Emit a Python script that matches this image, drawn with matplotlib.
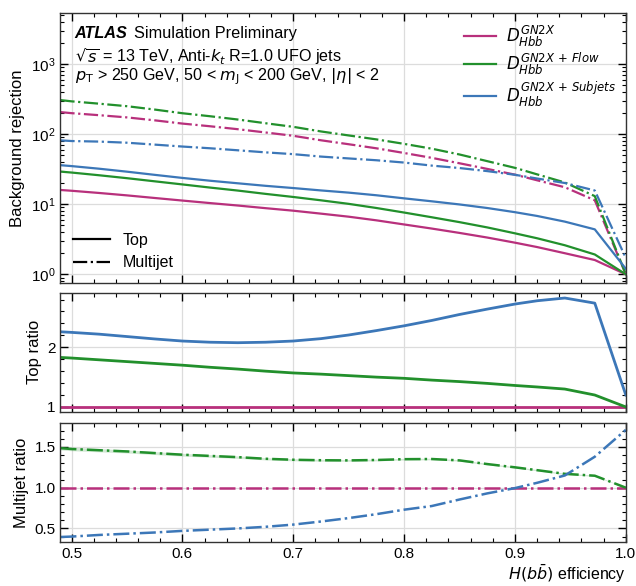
import numpy as np
import matplotlib
matplotlib.use("Agg")
import matplotlib.pyplot as plt
from matplotlib.ticker import MultipleLocator, LogLocator, NullFormatter

plt.rcParams["font.family"] = ["Liberation Sans", "DejaVu Sans"]
plt.rcParams["mathtext.fontset"] = "dejavusans"

# eficiencia H(bb) nos pontos da curva
eff = [0.49, 0.50, 0.525, 0.55, 0.575, 0.60, 0.625, 0.65, 0.675, 0.70, 0.725,
       0.75, 0.775, 0.80, 0.825, 0.85, 0.875, 0.90, 0.92, 0.945, 0.972, 1.0]

# rejeicao do GN2X (referencia)
rej_top_gn2x = [16.0, 15.6, 14.5, 13.4, 12.3, 11.3, 10.4, 9.6, 8.8, 8.1, 7.35,
                6.65, 5.9, 5.15, 4.5, 3.9, 3.35, 2.83, 2.45, 2.0, 1.6, 1.0]
rej_qcd_gn2x = [207, 200, 187, 174, 158, 142, 130, 118, 106, 95, 82,
                72, 63, 54, 46, 38.5, 32, 26.5, 22, 17.5, 11.4, 1.0]

# razoes em relacao ao GN2X
ratio_top_flow = [1.83, 1.82, 1.79, 1.76, 1.73, 1.70, 1.665, 1.635, 1.60, 1.57, 1.55,
                  1.525, 1.50, 1.48, 1.45, 1.425, 1.395, 1.36, 1.335, 1.30, 1.20, 1.0]
ratio_top_subj = [2.26, 2.25, 2.22, 2.18, 2.14, 2.105, 2.085, 2.077, 2.085, 2.105, 2.145,
                  2.206, 2.28, 2.36, 2.45, 2.55, 2.64, 2.725, 2.78, 2.826, 2.74, 1.2]
ratio_qcd_flow = [1.485, 1.475, 1.46, 1.445, 1.425, 1.405, 1.39, 1.375, 1.355, 1.343, 1.337,
                  1.335, 1.34, 1.35, 1.352, 1.335, 1.29, 1.25, 1.215, 1.17, 1.147, 1.0]
ratio_qcd_subj = [0.395, 0.40, 0.42, 0.435, 0.45, 0.47, 0.485, 0.50, 0.52, 0.547, 0.585,
                  0.627, 0.675, 0.73, 0.775, 0.855, 0.93, 0.995, 1.06, 1.15, 1.38, 1.71]
# incerteza estatistica (banda) na razao multijet do Flow
err_qcd_flow = [0.022, 0.021, 0.02, 0.019, 0.018, 0.017, 0.016, 0.015, 0.014, 0.013, 0.012,
                0.011, 0.011, 0.01, 0.01, 0.009, 0.009, 0.008, 0.008, 0.008, 0.008, 0.0]

nomes = [r"$D_{Hbb}^{GN2X}$", r"$D_{Hbb}^{GN2X\,+\,Flow}$", r"$D_{Hbb}^{GN2X\,+\,Subjets}$"]
cores = ["#b8307c", "#22902c", "#3c77b8"]

x = np.array(eff)
top_ref = np.array(rej_top_gn2x)
qcd_ref = np.array(rej_qcd_gn2x)
ratios_top = [np.ones_like(x), np.array(ratio_top_flow), np.array(ratio_top_subj)]
ratios_qcd = [np.ones_like(x), np.array(ratio_qcd_flow), np.array(ratio_qcd_subj)]

fig = plt.figure(figsize=(6.36, 5.86), dpi=100)
esq, larg = 0.095, 0.889
ax0 = fig.add_axes([esq, 0.5166, larg, 0.4604])
ax1 = fig.add_axes([esq, 0.2974, larg, 0.2031], sharex=ax0)
ax2 = fig.add_axes([esq, 0.0746, larg, 0.2030], sharex=ax0)

lw = 1.6
for i in range(3):
    ax0.plot(x, top_ref * ratios_top[i], color=cores[i], lw=lw, ls="-", label=nomes[i])
    ax0.plot(x, qcd_ref * ratios_qcd[i], color=cores[i], lw=lw, ls="-.")
    ax1.plot(x, ratios_top[i], color=cores[i], lw=lw + 0.4, ls="-")
    ax2.plot(x, ratios_qcd[i], color=cores[i], lw=lw + 0.2, ls="-.")

err = np.array(err_qcd_flow)
ax2.fill_between(x, ratios_qcd[1] - err, ratios_qcd[1] + err, color=cores[1], alpha=0.2, lw=0)

ax0.set_yscale("log")
ax0.set_xlim(0.49, 1.0)
ax0.set_ylim(0.745, 5300)
ax1.set_ylim(0.92, 2.915)
ax2.set_ylim(0.33, 1.79)

ax0.yaxis.set_major_locator(LogLocator(base=10, numticks=10))
ax0.yaxis.set_minor_locator(LogLocator(base=10, subs=np.arange(2, 10), numticks=20))
ax0.yaxis.set_minor_formatter(NullFormatter())
ax1.yaxis.set_major_locator(MultipleLocator(1))
ax1.yaxis.set_minor_locator(MultipleLocator(0.2))
ax2.yaxis.set_major_locator(MultipleLocator(0.5))
ax2.yaxis.set_minor_locator(MultipleLocator(0.1))
ax2.xaxis.set_major_locator(MultipleLocator(0.1))
ax2.xaxis.set_minor_locator(MultipleLocator(0.02))

for ax in (ax0, ax1, ax2):
    ax.tick_params(which="both", direction="in", top=True, right=True, labelsize=11)
    ax.tick_params(which="major", length=6, width=1)
    ax.tick_params(which="minor", length=3, width=0.8)
    ax.grid(True, which="major", color="#dcdcdc", lw=0.9)
    ax.set_axisbelow(True)
    for s in ax.spines.values():
        s.set_linewidth(1.0)
        s.set_color("#333333")
ax0.tick_params(labelbottom=False)
ax1.tick_params(labelbottom=False)

ax0.set_ylabel("Background rejection", fontsize=12)
ax1.set_ylabel("Top ratio", fontsize=12)
ax2.set_ylabel("Multijet ratio", fontsize=12)
ax2.set_xlabel(r"$H(b\bar{b})$ efficiency", fontsize=11.5, loc="right", labelpad=1)
fig.align_ylabels([ax0, ax1, ax2])

# textos ATLAS
ax0.text(0.025, 0.927, "ATLAS", transform=ax0.transAxes, fontsize=11.7,
         fontweight="bold", fontstyle="italic", va="center")
ax0.text(0.131, 0.927, "Simulation Preliminary", transform=ax0.transAxes, fontsize=11.7, va="center")
ax0.text(0.025, 0.84, r"$\sqrt{s}$ = 13 TeV, Anti-$k_t$ R=1.0 UFO jets",
         transform=ax0.transAxes, fontsize=11.6, va="center")
ax0.text(0.025, 0.765, r"$p_{\mathrm{T}}$ > 250 GeV, 50 < $m_{\mathrm{J}}$ < 200 GeV, $|\eta|$ < 2",
         transform=ax0.transAxes, fontsize=11.6, va="center")

leg1 = ax0.legend(loc="upper right", frameon=False, fontsize=12, handlelength=1.9,
                  handletextpad=0.6, borderaxespad=0.2, labelspacing=0.15)
ax0.add_artist(leg1)
h_top, = ax0.plot([], [], color="black", lw=lw, ls="-")
h_qcd, = ax0.plot([], [], color="black", lw=lw, ls="-.")
ax0.legend([h_top, h_qcd], ["Top", "Multijet"], loc="lower left", frameon=False,
           fontsize=11.5, handlelength=2.3, borderaxespad=0.4)

plt.savefig("out.png", dpi=100)
print("Gráfico salvo")
